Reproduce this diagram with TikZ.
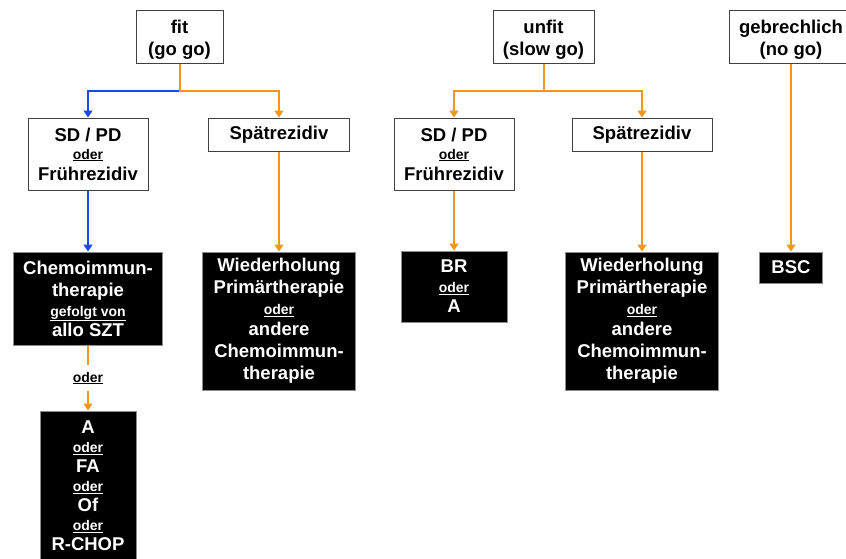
\documentclass[tikz,border=0pt]{standalone}
\usepackage{fontspec}
\setmainfont{Liberation Sans}
\usetikzlibrary{arrows.meta}
\definecolor{orangeline}{RGB}{242,150,30}
\definecolor{blueline}{RGB}{25,75,230}
\newcommand{\oder}{{\fontsize{14}{14}\selectfont\underline{oder}}}
\tikzstyle{stage} = [rectangle, draw=black!75, line width=1pt, fill=white, align=center, inner sep=0pt]
\tikzstyle{therapy} = [rectangle, draw=black!45, line width=1pt, fill=black, text=white, align=center, inner sep=0pt]
\tikzstyle{orangeflow} = [draw=orangeline, line width=2pt]
\tikzstyle{blueflow} = [draw=blueline, line width=2pt]

\begin{document}
\begin{tikzpicture}[x=1pt,y=-1pt,>={Triangle[length=7pt,width=9pt]},
    font=\fontsize{18.5}{22}\selectfont\bfseries]
  \useasboundingbox (0,0) rectangle (846,558);
  % patient groups
  \node[stage, minimum width=87pt, minimum height=53pt] (fit) at (179.5,36.5) {\rule{0pt}{19pt}fit\\(go go)};
  \node[stage, minimum width=101pt, minimum height=53pt] (unfit) at (543.5,36.5) {\rule{0pt}{19pt}unfit\\(slow go)};
  \node[stage, minimum width=124pt, minimum height=53pt] (gebr) at (791,36.5) {\rule{0pt}{19pt}gebrechlich\\(no go)};
  % relapse situation
  \node[stage, minimum width=120pt, minimum height=72pt] (SDPD) at (88,154) {SD / PD\\[-4pt]\oder\\[-1pt]Frührezidiv};
  \node[stage, minimum width=141pt, minimum height=33pt] (Spaet) at (279,134.5) {Spätrezidiv};
  \node[stage, minimum width=120pt, minimum height=72pt] (SDPD2) at (454,154) {SD / PD\\[-4pt]\oder\\[-1pt]Frührezidiv};
  \node[stage, minimum width=140pt, minimum height=33pt] (Spaet2) at (642,134.5) {Spätrezidiv};
  % therapies
  \node[therapy, minimum width=149pt, minimum height=93pt, node distance=144.5pt] (Chemo) [below of=SDPD]
    {Chemoimmun-\\therapie\\[-2pt]{\fontsize{14}{14}\selectfont\underline{gefolgt von}}\\[-2pt]allo SZT};
  \node[therapy, minimum width=153pt, minimum height=138pt, node distance=186.5pt] (Wied) [below of=Spaet]
    {Wiederholung\\Primärtherapie\\[-1pt]\oder\\[-1pt]andere\\Chemoimmun-\\therapie};
  \node[therapy, minimum width=106pt, minimum height=71pt, node distance=132.5pt] (BR) [below of=SDPD2]
    {BR\\[-2pt]\oder\\[-2pt]A};
  \node[therapy, minimum width=153pt, minimum height=138pt, node distance=186.5pt] (Wied2) [below of=Spaet2]
    {Wiederholung\\Primärtherapie\\[-1pt]\oder\\[-1pt]andere\\Chemoimmun-\\therapie};
  \node[therapy, minimum width=63pt, minimum height=31pt, node distance=231pt] (BSC) [below of=gebr] {BSC};
  \node[inner sep=0pt, minimum height=26pt, node distance=79.5pt] (oderlbl) [below of=Chemo] {\oder};
  \node[therapy, minimum width=96pt, minimum height=150pt, node distance=187.5pt] (Alt) [below of=Chemo]
    {A\\[-3pt]\oder\\[-2pt]FA\\[-3pt]\oder\\[-2pt]Of\\[-3pt]\oder\\[-2pt]R-CHOP};

  \path (fit.south) ++(0,27) coordinate (fitsplit);
  \path (unfit.south) ++(0,27) coordinate (unfitsplit);
  \draw[->, blueflow] (fitsplit) -| (SDPD.north);
  \draw[->, orangeflow] (fit.south) -- (fitsplit) -| (Spaet.north);
  \draw[->, blueflow] (SDPD) -- (Chemo);
  \draw[->, orangeflow] (Spaet) -- (Wied);
  \draw[->, orangeflow] (unfit.south) -- (unfitsplit) -| (SDPD2.north);
  \draw[->, orangeflow] (unfitsplit) -| (Spaet2.north);
  \draw[->, orangeflow] (SDPD2) -- (BR);
  \draw[->, orangeflow] (Spaet2) -- (Wied2);
  \draw[->, orangeflow] (gebr.south) -- (gebr.south |- BSC.north);
  \draw[orangeflow] (Chemo) -- (oderlbl);
  \draw[->, orangeflow] (oderlbl) -- (Alt);
\end{tikzpicture}
\end{document}
